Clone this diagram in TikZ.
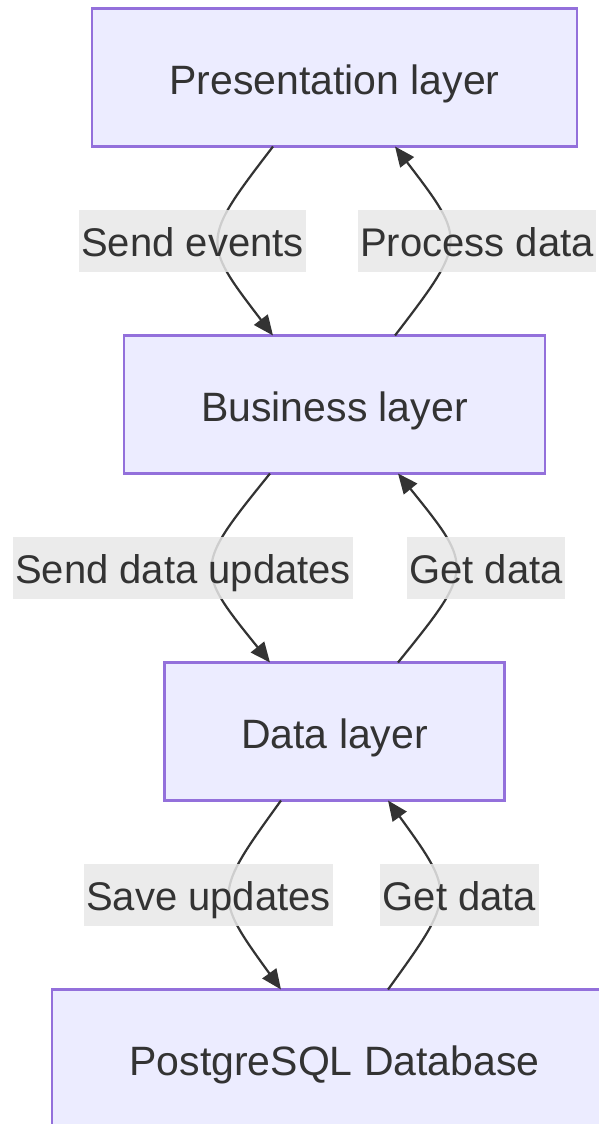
\documentclass[tikz,border=0pt]{standalone}
\usepackage{fontspec}
\setmainfont{Liberation Sans}
\usepackage{xcolor}
\usepackage{tikz}
\usetikzlibrary{arrows.meta,positioning}
\definecolor{BoxFill}{HTML}{ECECFF}
\definecolor{BoxLine}{HTML}{9370DB}
\definecolor{Ink}{HTML}{333333}
\definecolor{LabelGrey}{HTML}{E8E8E8}
\tikzset{
  layerbox/.style={draw=BoxLine, line width=2.5pt, fill=BoxFill, align=center, minimum height=138pt, outer sep=0pt, text=Ink, text height=33pt, text depth=0pt, font=\fontsize{41}{49}\selectfont},
  edgelabel/.style={fill=LabelGrey, fill opacity=0.85, text opacity=1, text=Ink, inner xsep=2.5pt, inner ysep=0pt, minimum height=62pt, text height=30pt, text depth=0pt, font=\fontsize{40}{48}\selectfont},
  flow/.style={-{Triangle[length=20pt,width=17pt]}, line width=2.2pt, draw=Ink}
}
\begin{document}
\begin{tikzpicture}[x=1pt, y=-1pt, node distance=189pt]
  \useasboundingbox (0,0) rectangle (599,1124);
  \node[layerbox, minimum width=485pt] (pres) at (334.5,77.5) {Presentation layer};
  \node[layerbox, minimum width=421pt, below=of pres] (biz) {Business layer};
  \node[layerbox, minimum width=340pt, below=of biz] (data) {Data layer};
  \node[layerbox, minimum width=565pt, below=of data] (db) {PostgreSQL Database};
  % presentation <-> business
  \draw[flow] ([xshift=-61.5pt]pres.south) .. controls +(-72,94) and +(-72,-94) .. node[edgelabel, xshift=-26.5pt]{Send events} ([xshift=-61.5pt]biz.north);
  \draw[flow] ([xshift=60.5pt]biz.north) .. controls +(72,-94) and +(72,94) .. node[edgelabel, xshift=28pt]{Process data} ([xshift=60.5pt]pres.south);
  % business <-> data
  \draw[flow] ([xshift=-64.5pt]biz.south) .. controls +(-76,94) and +(-76,-94) .. node[edgelabel, xshift=-30pt]{Send data updates} ([xshift=-64.5pt]data.north);
  \draw[flow] ([xshift=63.5pt]data.north) .. controls +(76,-94) and +(76,94) .. node[edgelabel, xshift=31pt]{Get data} ([xshift=63.5pt]biz.south);
  % data <-> database
  \draw[flow] ([xshift=-53.5pt]data.south) .. controls +(-68,94) and +(-68,-94) .. node[edgelabel, xshift=-21.5pt]{Save updates} ([xshift=-53.5pt]db.north);
  \draw[flow] ([xshift=53.5pt]db.north) .. controls +(68,-94) and +(68,94) .. node[edgelabel, xshift=20.5pt]{Get data} ([xshift=53.5pt]data.south);
\end{tikzpicture}
\end{document}
